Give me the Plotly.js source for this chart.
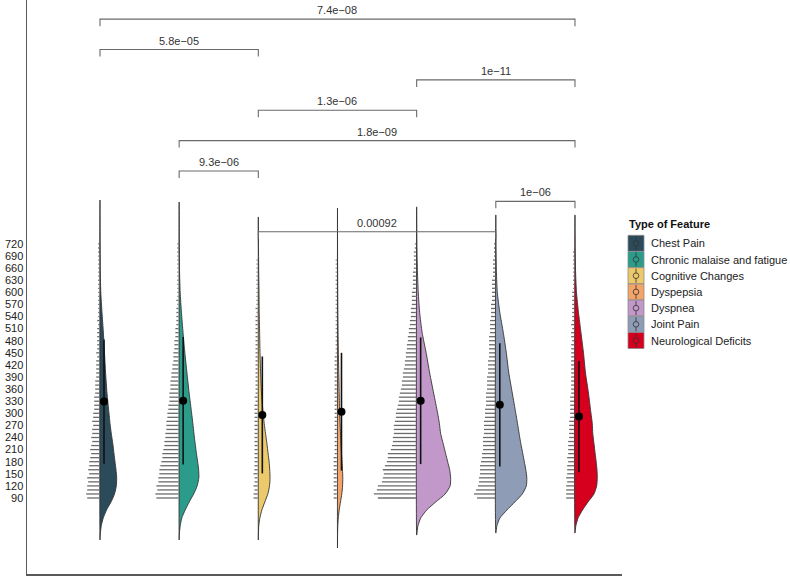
<!DOCTYPE html>
<html>
<head>
<meta charset="utf-8">
<script src="https://cdn.plot.ly/plotly-3.0.1.min.js"></script>
<style>
  html, body { margin: 0; padding: 0; background: #fff; }
  #chart { width: 790px; height: 577px; }
</style>
</head>
<body>
<div id="chart"></div>
<script>
// ---------------- DATA ----------------
const categories = ["Chest Pain", "Chronic malaise and fatigue", "Cognitive Changes", "Dyspepsia", "Dyspnea", "Joint Pain", "Neurological Deficits"];
const colors = ["#2b4a5a", "#2c9c8a", "#ecc96b", "#f4a468", "#c198c9", "#8e9cb5", "#d6001e"];

const yTicks = [90, 120, 150, 180, 210, 240, 270, 300, 330, 360, 390, 420, 450, 480, 510, 540, 570, 600, 630, 660, 690, 720];

// dot-plot bins (value) and counts per bin
const bins = [90,100,110,120,130,140,150,160,170,180,190,200,210,220,230,240,250,260,270,280,290,300,310,320,330,340,350,360,370,380,390,400,410,420,430,440,450,460,470,480,490,500,510,520,530,540,550,560,570,580,590,600,610,620,630,640,650,660,670,680,690,700,710,720];
const chestCounts = [12,13,12,12,11,12,10,11,10,10, 9,8,9,8,7,8,7,7,6,7, 6,6,5,5,5,5,4,4,4,4, 3,3,3,3,3,2,3,2,2,2, 2,2,2,1,2,1,1,1,1,1, 1,1,1,1,1,1,1,1,1,1, 1,1,1,1];
const chronicCounts = [22,23,21,22,20,20,19,19,18,17, 16,16,15,14,14,13,13,12,12,12, 11,11,10,10,9,9,9,8,8,8, 7,7,6,6,5,5,5,4,4,4, 3,3,3,2,2,2,2,2,1,2, 1,1,1,1,1,1,1,1,1,1, 1,1,1,1];
const cognitiveCounts = [4,4,3,4,3,3,4,3,3,3, 3,3,3,3,3,3,3,3,3,3, 3,3,3,3,2,3,2,2,2,2, 2,2,2,2,2,2,2,2,2,2, 2,2,2,2,2,2,1,2,1,1, 1,1,1,1,1,1,1,1,1,1, 0,0,0,0];
const dyspepsiaCounts = [3,3,3,3,3,3,3,3,3,3, 3,2,2,2,2,2,2,2,2,2, 2,2,2,2,2,2,2,2,2,2, 2,2,2,2,2,2,1,1,1,1, 1,1,1,1,1,1,1,1,1,1, 1,1,1,1,1,1,1,1,1,1, 0,0,0,0];
const dyspneaCounts = [38,42,39,38,34,33,32,33,31,29, 28,28,25,24,23,23,22,22,22,21, 20,20,19,18,17,17,16,15,14,14, 13,13,12,11,11,10,10,9,9,8, 8,7,7,6,6,5,5,5,4,4, 4,4,3,3,3,3,3,2,2,2, 2,2,1,1];
const jointCounts = [18,21,19,17,16,16,15,15,15,14, 13,13,12,12,12,12,11,11,11,11, 10,10,10,9,9,9,9,8,8,8, 8,7,7,7,7,6,6,6,6,6, 6,5,5,5,5,4,4,4,4,3, 3,3,3,3,3,2,2,2,2,2, 1,1,1,1];
const neuroCounts = [8,8,8,8,7,8,7,7,7,6, 7,6,6,6,6,5,5,5,5,5, 4,4,4,4,4,4,3,3,3,3, 3,3,3,3,3,3,3,3,3,2, 3,3,2,3,2,2,2,2,2,2, 2,2,1,1,1,1,1,1,1,1, 1,1,0,0];

// half-violin density (width) at value grid
const violinGrid = [0,20,40,60,80,100,120,140,160,180,200,225,250,275,300,350,400,450,500,550,600,650,700,750,800];
const violinLo = [-14, -14, -14, -34, -2, 3, 3];
const violinHi = [829, 824, 787, 809, 812, 792, 792];
const chestDensity = [0.3,1.2,3.2,6.5,11,14.5,16.3,16.7,16,15,14,12.8,11.3,10,9,7,5.6,4.5,3.4,2,0.8,0.3,0.15,0.05,0.02];
const chronicDensity = [0.2,1,2.6,6,10,14.5,18,19.7,19.5,18.5,17.3,16,14.8,13.7,12.5,10,7.8,5.7,3.9,2.3,1,0.4,0.15,0.05,0.02];
const cognitiveDensity = [0.1,0.4,1.5,3.5,6.5,9.5,11.2,11.7,11.4,10.8,9.8,8.6,7.2,5.9,4.8,3.2,2.3,1.7,1.3,0.9,0.7,0.4,0.2,0.06,0];
const dyspepsiaDensity = [0.1,0.3,0.8,1.7,3,4.3,5.1,5.3,5,4.5,4,3.5,3,2.6,2.2,1.7,1.3,0.9,0.6,0.4,0.25,0.15,0.08,0.04,0.02];
const dyspneaDensity = [0.2,1.2,4,10,19,28.5,33.5,34,33,31,29,26.5,24,22.7,21,17,13,9.5,5.5,3,1.6,0.8,0.35,0.12,0.03];
const jointDensity = [0,1,4,11,19,26.5,30.5,31,30,28.5,27,25,23.3,21.7,20,16.5,13,10.5,7.5,4,1.5,0.6,0.25,0.08,0];
const neuroDensity = [0,0.8,3,7.5,13,19,21.7,22.3,22,21.2,20.2,19,17.8,17.3,16,13.5,10.5,8.5,6,3.5,1.5,0.6,0.25,0.08,0];

// mean and SD
const means = [329, 331, 296, 304, 331, 321, 292];
const sds = [154, 158, 145, 146, 157, 153, 138];

// significance brackets (category index pairs), p-value labels, stacking level
const bracketFrom = [2, 5, 1, 1, 2, 4, 0, 0];
const bracketTo = [5, 6, 2, 6, 4, 6, 2, 6];
const bracketLabels = ["0.00092", "1e\u221206", "9.3e\u221206", "1.8e\u221209", "1.3e\u221206", "1e\u221211", "5.8e\u221205", "7.4e\u221208"];

// ---------------- STYLE / LAYOUT CONSTANTS ----------------
const W = 790, H = 577;
const M = {l: 27, r: 168, t: 0, b: 3};
const xRange = [-0.922, 6.594];
const yRange = [-98.5, 1325];
const plotW = W - M.l - M.r, plotH = H - M.t - M.b;
const pxX = (xRange[1] - xRange[0]) / plotW;   // data units per px (x)
const pxY = (yRange[1] - yRange[0]) / plotH;   // data units per px (y)
const dotUnit = 1.0 * pxX;      // width of one dot
const violinUnit = 1.0 * pxX;   // density -> px
const bracketBase = 750.4, bracketStep = 75.3, bracketTick = 7 * pxY;

const countsList = [chestCounts, chronicCounts, cognitiveCounts, dyspepsiaCounts, dyspneaCounts, jointCounts, neuroCounts];
const densList = [chestDensity, chronicDensity, cognitiveDensity, dyspepsiaDensity, dyspneaDensity, jointDensity, neuroDensity];

const traces = [];

// dot plot strips (horizontal stacks to the left of each spine)
categories.forEach((cat, i) => {
  const xs = [], ys = [];
  countsList[i].forEach((c, k) => {
    if (c <= 0) return;
    xs.push(i - 0.01, i - 0.01 - c * dotUnit, null);
    ys.push(bins[k], bins[k], null);
  });
  traces.push({
    type: 'scatter', mode: 'lines', x: xs, y: ys,
    line: {color: '#6b6b6b', width: 1.3},
    hoverinfo: 'skip', showlegend: false
  });
});

// half violins
categories.forEach((cat, i) => {
  const xs = [i], ys = [violinLo[i]];
  violinGrid.forEach((g, k) => {
    if (g > violinLo[i] && g < violinHi[i]) {
      xs.push(i + densList[i][k] * violinUnit);
      ys.push(g);
    }
  });
  xs.push(i, i);
  ys.push(violinHi[i], violinLo[i]);
  traces.push({
    type: 'scatter', mode: 'lines', x: xs, y: ys, fill: 'toself',
    fillcolor: colors[i],
    line: {color: '#333333', width: 0.9, shape: 'spline', smoothing: 0.6},
    hoverinfo: 'skip', showlegend: false
  });
});

// mean +/- sd point ranges
traces.push({
  type: 'scatter', mode: 'markers',
  x: categories.map((c, i) => i + 4 * pxX),
  y: means,
  marker: {color: '#000', size: 8},
  error_y: {type: 'data', array: sds, visible: true, color: '#111', thickness: 1.6, width: 0},
  hoverinfo: 'skip', showlegend: false
});

// brackets
const shapes = [];
const annotations = [];
bracketLabels.forEach((lab, j) => {
  const y = bracketBase + j * bracketStep;
  const a = bracketFrom[j], b = bracketTo[j];
  shapes.push({
    type: 'path', xref: 'x', yref: 'y',
    path: `M ${a},${y - bracketTick} L ${a},${y} L ${b},${y} L ${b},${y - bracketTick}`,
    line: {color: '#6a6a6a', width: 1.1}
  });
  annotations.push({
    xref: 'x', yref: 'y', x: (a + b) / 2, y: y, yshift: 9, yanchor: 'middle',
    text: lab, showarrow: false, font: {size: 11, color: '#333', family: 'Liberation Sans, Arial, sans-serif'}
  });
});

// manual legend (pixel positions -> paper)
const px2paperX = px => (px - M.l) / plotW;
const px2paperY = py => (H - M.b - py) / plotH;
annotations.push({
  xref: 'paper', yref: 'paper', x: px2paperX(627), y: px2paperY(224), xanchor: 'left', yanchor: 'middle',
  text: '<b>Type of Feature</b>', showarrow: false, font: {size: 11, color: '#111', family: 'Liberation Sans, Arial, sans-serif'}
});
categories.forEach((cat, i) => {
  const cy = 243.3 + i * 16.2;
  shapes.push({
    type: 'rect', xref: 'paper', yref: 'paper',
    x0: px2paperX(628), x1: px2paperX(644), y0: px2paperY(cy - 8), y1: px2paperY(cy + 8),
    fillcolor: colors[i], line: {color: '#8a8a8a', width: 0.8}
  });
  shapes.push({
    type: 'line', xref: 'paper', yref: 'paper',
    x0: px2paperX(636), x1: px2paperX(636), y0: px2paperY(cy - 7), y1: px2paperY(cy + 7),
    line: {color: '#333', width: 0.8}
  });
  shapes.push({
    type: 'circle', xref: 'paper', yref: 'paper',
    x0: px2paperX(633.2), x1: px2paperX(638.8), y0: px2paperY(cy - 2.8), y1: px2paperY(cy + 2.8),
    fillcolor: colors[i], line: {color: '#333', width: 0.8}
  });
  annotations.push({
    xref: 'paper', yref: 'paper', x: px2paperX(649), y: px2paperY(cy), xanchor: 'left', yanchor: 'middle',
    text: cat, showarrow: false, font: {size: 11, color: '#222', family: 'Liberation Sans, Arial, sans-serif'}
  });
});

const layout = {
  width: W, height: H,
  margin: M,
  paper_bgcolor: '#fff', plot_bgcolor: '#fff',
  showlegend: false,
  font: {family: 'Liberation Sans, Arial, sans-serif'},
  xaxis: {
    range: xRange, showgrid: false, zeroline: false, showticklabels: false, ticks: '',
    showline: true, linecolor: '#5a5a5a', linewidth: 1.5, fixedrange: true
  },
  yaxis: {
    range: yRange, showgrid: false, zeroline: false, ticks: '',
    tickmode: 'array', tickvals: yTicks, ticktext: yTicks.map(String),
    tickfont: {size: 11, color: '#222'},
    showline: true, linecolor: '#5a5a5a', linewidth: 1.5, fixedrange: true
  },
  shapes: shapes,
  annotations: annotations
};

Plotly.newPlot('chart', traces, layout, {staticPlot: true, displayModeBar: false});
</script>
</body>
</html>
